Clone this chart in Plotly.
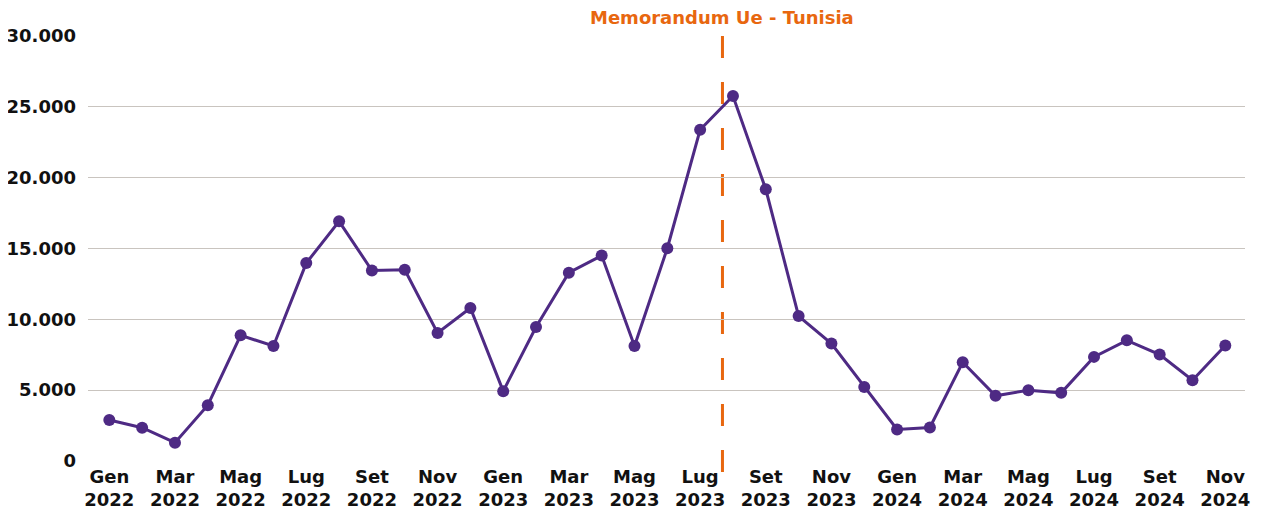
import plotly.graph_objects as go

months = ["Gen", "Feb", "Mar", "Apr", "Mag", "Giu", "Lug", "Ago", "Set", "Ott", "Nov", "Dic"]
years = [2022, 2023, 2024]
categories = [f"{m} {y}" for y in years for m in months][:35]

values = [2890, 2350, 1290, 3940, 8870, 8120, 13970, 16920, 13450, 13500, 9040, 10800,
          4930, 9460, 13290, 14500, 8120, 15020, 23380, 25770, 19180, 10230, 8290, 5230,
          2230, 2370, 6970, 4600, 5000, 4810, 7350, 8520, 7510, 5700, 8150]

tick_idx = list(range(0, 35, 2))
tick_vals = [categories[i] for i in tick_idx]
tick_text = [categories[i].replace(" ", "<br>") for i in tick_idx]

event_label = "Memorandum Ue - Tunisia"
event_pos = 18.68

purple = "#4E2A84"
orange = "#E8670F"
font_family = "DejaVu Sans"

fig = go.Figure()
fig.add_trace(go.Scatter(
    x=categories, y=values, mode="lines+markers",
    line=dict(color=purple, width=3),
    marker=dict(color=purple, size=12),
    showlegend=False, cliponaxis=False,
))

fig.add_shape(type="line", xref="x", yref="paper", x0=event_pos, x1=event_pos,
              y0=1.0, y1=-0.03, line=dict(color=orange, width=3, dash="22px,24px"),
              layer="below")
fig.add_annotation(x=event_pos, xref="x", y=1.0, yref="paper", yanchor="bottom",
                   yshift=6, text=event_label, showarrow=False,
                   font=dict(family=font_family, size=18, color=orange, weight="bold"))

fig.update_layout(
    width=1257, height=505,
    margin=dict(l=80, r=20, t=28, b=52),
    paper_bgcolor="white", plot_bgcolor="white",
    separators=",.",
    font=dict(family=font_family, size=18, color="#111111", weight="bold"),
)
fig.update_xaxes(type="category", categoryorder="array", categoryarray=categories,
                 range=[-0.65, 34.6], tickvals=tick_vals, ticktext=tick_text,
                 showgrid=False, zeroline=False, showline=False, ticks="",
                 automargin=False, ticklabelstandoff=3,
                 tickfont=dict(family=font_family, size=18, color="#111111", weight="bold"))
fig.update_yaxes(range=[0, 30000], dtick=5000, tickformat=",.0f",
                 showgrid=True, gridcolor="#C9C4BF", gridwidth=1,
                 zeroline=False, showline=False, ticks="", ticklabelstandoff=11,
                 automargin=False,
                 tickfont=dict(family=font_family, size=18, color="#111111", weight="bold"))

fig.write_html("out.html")
